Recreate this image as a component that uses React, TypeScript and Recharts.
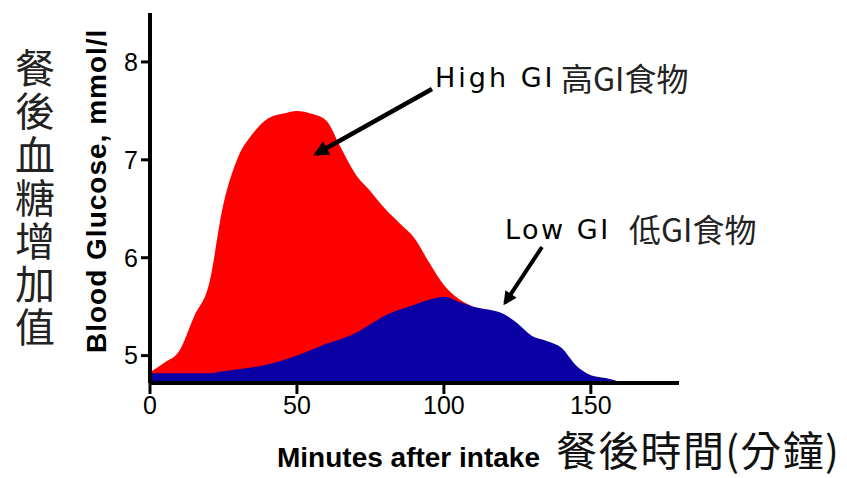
import React from 'react';
import { AreaChart, Area, XAxis, YAxis } from 'recharts';

// minutes after intake
const minutes = [0, 5, 10, 15, 20, 25, 30, 35, 40, 45, 50, 55, 60, 65, 70, 75, 80, 85, 90, 95, 100, 105, 110, 115, 120, 125, 130, 135, 140, 145, 150, 155, 160];
// blood glucose, mmol/l
const highGI = [4.83, 4.93, 5.05, 5.4, 5.72, 6.55, 7.03, 7.27, 7.42, 7.47, 7.5, 7.47, 7.4, 7.12, 6.85, 6.68, 6.5, 6.35, 6.2, 5.95, 5.72, 5.58, 5.5, 5.45, null, null, null, null, null, null, null, null, null];
const lowGI = [4.82, 4.82, 4.82, 4.82, 4.82, 4.84, 4.86, 4.88, 4.91, 4.95, 5.0, 5.06, 5.12, 5.17, 5.23, 5.32, 5.41, 5.47, 5.52, 5.57, 5.6, 5.55, 5.5, 5.47, 5.43, 5.33, 5.2, 5.15, 5.08, 4.9, 4.8, 4.77, 4.73];
const xTicks = [0, 50, 100, 150];
const yTicks = [5, 6, 7, 8];

const data = minutes.map((t, i) => ({ t, high: highGI[i], low: lowGI[i] }));

const App = () => {
  return (
    <div style={{ position: 'fixed', left: 0, top: 0, width: 847, height: 478, background: '#fff' }}>
      <AreaChart width={847} height={478} data={data} margin={{ top: 13, right: 168, left: 110, bottom: 55 }}>
        <XAxis
          dataKey="t"
          type="number"
          domain={[0, 180]}
          ticks={xTicks}
          height={40}
          tickSize={11}
          axisLine={{ stroke: '#000', strokeWidth: 4 }}
          tickLine={{ stroke: '#000', strokeWidth: 3 }}
          tick={{ fill: '#000', fontSize: 25, fontFamily: 'Liberation Sans, Arial' }}
          tickMargin={2}
        />
        <YAxis
          type="number"
          domain={[4.72, 8.5]}
          ticks={yTicks}
          width={40}
          tickSize={9}
          axisLine={{ stroke: '#000', strokeWidth: 4 }}
          tickLine={{ stroke: '#000', strokeWidth: 3 }}
          tick={{ fill: '#000', fontSize: 25, fontFamily: 'Liberation Sans, Arial' }}
          tickMargin={3}
        />
        <Area type="monotone" dataKey="high" stroke="none" fill="#ff0000" fillOpacity={1} isAnimationActive={false} />
        <Area type="monotone" dataKey="low" stroke="none" fill="#0a00a4" fillOpacity={1} isAnimationActive={false} />
      </AreaChart>

      {/* titles and annotations drawn over the chart */}
      <svg width={847} height={478} style={{ position: 'absolute', left: 0, top: 0, pointerEvents: 'none' }}>
        <defs>
          <marker id="head" viewBox="0 0 10 10" refX="8" refY="5" markerWidth="4" markerHeight="3.4" orient="auto">
            <path d="M0,0 L10,5 L0,10 z" fill="#000" />
          </marker>
        </defs>
        <line x1={432} y1={89} x2={316} y2={154} stroke="#000" strokeWidth={4.5} markerEnd="url(#head)" />
        <line x1={542} y1={247} x2={505} y2={303} stroke="#000" strokeWidth={4} markerEnd="url(#head)" />

        <text x={435} y={87} fontFamily="DejaVu Sans" fontSize={27} letterSpacing={3} fill="#000">High GI</text>
        <text x={561} y={91} fontFamily="Noto Sans CJK TC" fontSize={32} fill="#222">高GI食物</text>
        <text x={505} y={239} fontFamily="DejaVu Sans" fontSize={27} letterSpacing={2.5} fill="#000">Low GI</text>
        <text x={629} y={242} fontFamily="Noto Sans CJK TC" fontSize={32} fill="#222">低GI食物</text>

        <text
          transform="translate(106,353) rotate(-90)"
          fontFamily="Liberation Sans, Arial"
          fontWeight="bold"
          fontSize={28}
          letterSpacing={1}
          fill="#000"
        >
          Blood Glucose, mmol/l
        </text>
        <text
          x={35}
          y={48}
          writingMode="vertical-rl"
          fontFamily="Noto Sans CJK TC"
          fontSize={40}
          letterSpacing={3.2}
          fill="#222"
        >
          餐後血糖增加值
        </text>
        <text x={277} y={467} fontFamily="Liberation Sans, Arial" fontWeight="bold" fontSize={28} fill="#000">Minutes after intake</text>
        <text x={556} y={466} fontFamily="Noto Sans CJK TC" fontSize={41} letterSpacing={1.3} fill="#111">餐後時間(分鐘)</text>
      </svg>
    </div>
  );
};

export default App;
